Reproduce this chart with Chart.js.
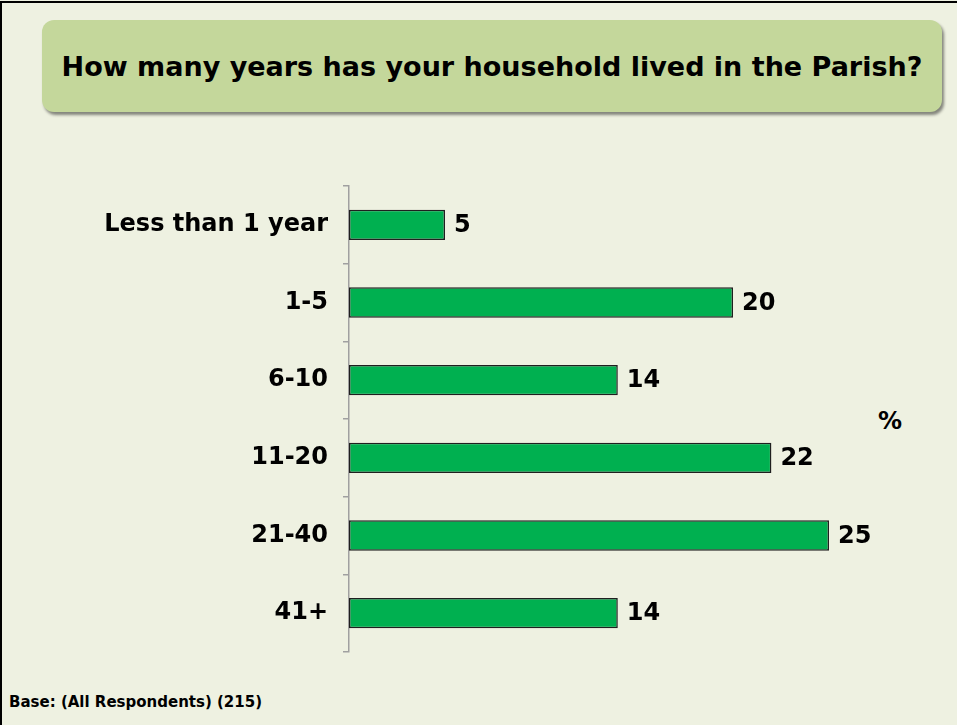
<!DOCTYPE html>
<html>
<head>
<meta charset="utf-8">
<script src="https://cdn.jsdelivr.net/npm/chart.js@4.4.1/dist/chart.umd.min.js"></script>
<style>
  html, body { margin:0; padding:0; background:#eef1e1; }
  #wrap { position:relative; width:957px; height:725px; overflow:hidden; background:#eef1e1; }
  #frame { position:absolute; left:0; top:1px; width:980px; height:740px; border-left:2px solid #000; border-top:2px solid #000; box-sizing:border-box; }
  #title {
    position:absolute; left:42px; top:20px; width:900px; height:92px;
    background:#c4d79b; border-radius:12px;
    box-shadow:2px 3px 3px rgba(0,0,0,0.45);
    font:bold 27px "DejaVu Sans", Verdana, sans-serif; color:#000;
    display:flex; align-items:center; justify-content:center;
  }
  #pct { position:absolute; left:878px; top:406px; font:bold 24px "DejaVu Sans", Verdana, sans-serif; line-height:30px; }
  #base { position:absolute; left:9px; top:693px; font:bold 15px "DejaVu Sans", Verdana, sans-serif; }
  canvas { position:absolute; left:0; top:0; }
</style>
</head>
<body>
<div id="wrap">
  <div id="frame"></div>
  <div id="title">How many years has your household lived in the Parish?</div>
  <div id="pct">%</div>
  <div id="base">Base: (All Respondents) (215)</div>
  <canvas id="c" width="957" height="725"></canvas>
</div>
<script>
// data
const categories = ['Less than 1 year', '1-5', '6-10', '11-20', '21-40', '41+'];
const percentages = [5, 20, 14, 22, 25, 14];

const barColor = '#00b050';
const fontFamily = '"DejaVu Sans", Verdana, sans-serif';

// value labels at the end of each bar
const valueLabels = {
  id: 'valueLabels',
  afterDatasetsDraw(chart) {
    const ctx = chart.ctx;
    const meta = chart.getDatasetMeta(0);
    ctx.save();
    ctx.font = 'bold 24px ' + fontFamily;
    ctx.fillStyle = '#000';
    ctx.textAlign = 'left';
    ctx.textBaseline = 'middle';
    meta.data.forEach((bar, i) => {
      ctx.fillText(String(percentages[i]), bar.x + 9, bar.y + 1);
    });
    ctx.restore();
  }
};

const chart = new Chart(document.getElementById('c'), {
  type: 'bar',
  data: {
    labels: categories,
    datasets: [{
      data: percentages,
      backgroundColor: barColor,
      borderColor: '#1f1f1f',
      borderWidth: 1.5,
      borderSkipped: false,
      barPercentage: 0.39,
      categoryPercentage: 1
    }]
  },
  options: {
    indexAxis: 'y',
    responsive: false,
    animation: false,
    layout: { padding: { left: 0, right: 32, top: 186, bottom: 73 } },
    plugins: { legend: { display: false }, tooltip: { enabled: false } },
    scales: {
      x: {
        display: false,
        min: 0,
        max: 30
      },
      y: {
        afterFit(scale) { scale.width = 349; },
        grid: {
          offset: true,
          drawOnChartArea: false,
          color: '#a0a0a0',
          tickLength: 6,
          lineWidth: 1.5
        },
        border: { color: '#a0a0a0', width: 1.5 },
        ticks: {
          color: '#000',
          padding: 15,
          font: { family: fontFamily, size: 24, weight: 'bold' }
        }
      }
    }
  },
  plugins: [valueLabels]
});
</script>
</body>
</html>
